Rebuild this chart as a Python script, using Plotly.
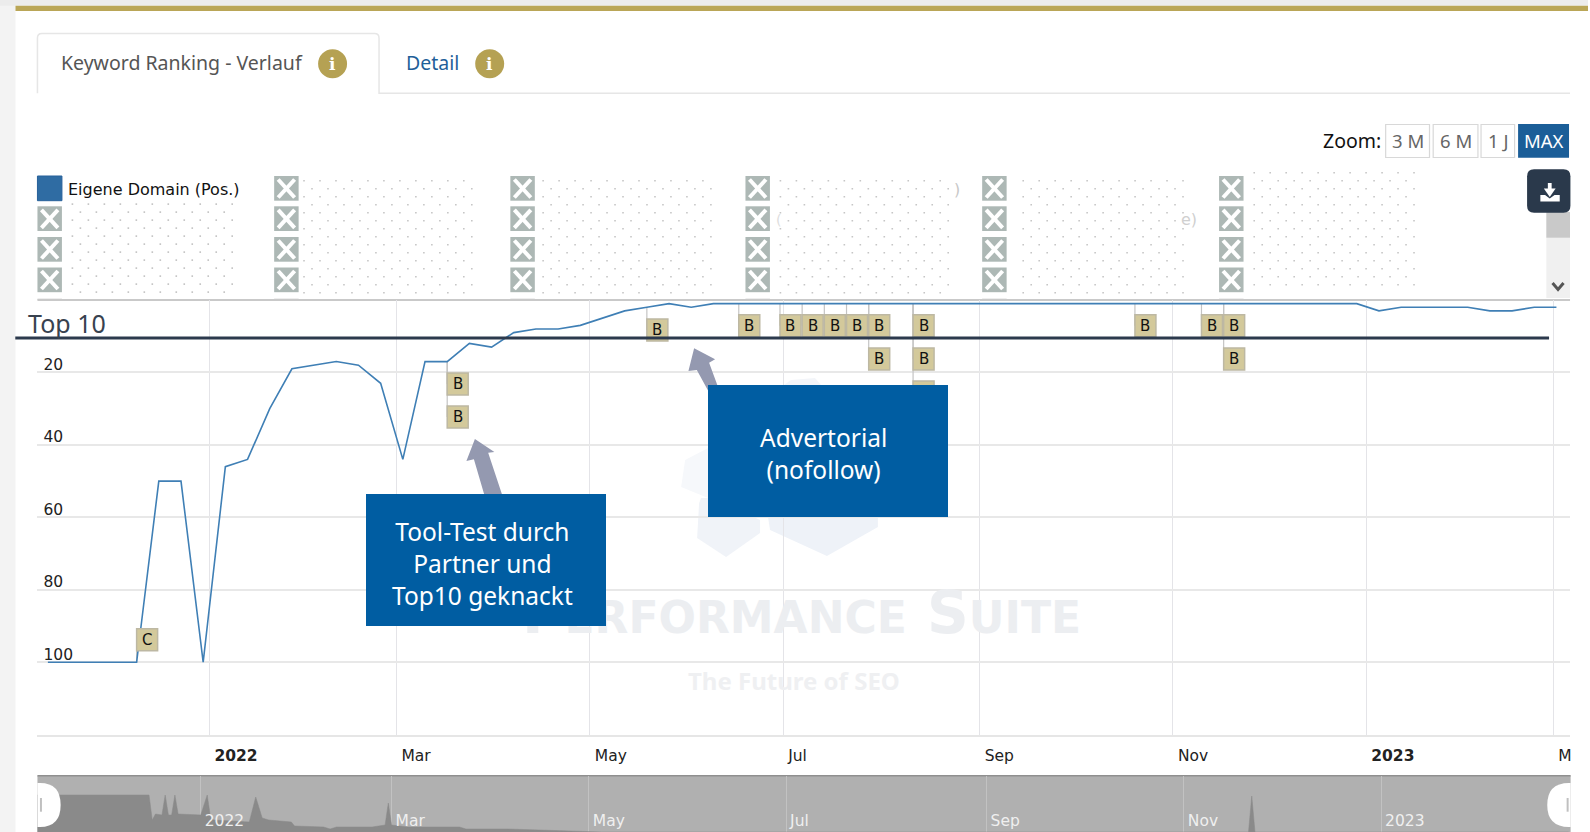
import plotly.graph_objects as go

W, H = 1590, 832

# ---------- data ----------
rank_dates = [
    "2021-11-11","2021-11-18","2021-11-25","2021-12-02","2021-12-09","2021-12-16","2021-12-23","2021-12-30",
    "2022-01-06","2022-01-13","2022-01-20","2022-01-27","2022-02-03","2022-02-10","2022-02-17","2022-02-24",
    "2022-03-03","2022-03-10","2022-03-17","2022-03-24","2022-03-31","2022-04-07","2022-04-14","2022-04-21",
    "2022-04-28","2022-05-05","2022-05-12","2022-05-19","2022-05-26","2022-06-02","2022-06-09","2022-06-16",
    "2022-06-23","2022-06-30","2022-07-07","2022-07-14","2022-07-21","2022-07-28","2022-08-04","2022-08-11",
    "2022-08-18","2022-08-25","2022-09-01","2022-09-08","2022-09-15","2022-09-22","2022-09-29","2022-10-06",
    "2022-10-13","2022-10-20","2022-10-27","2022-11-03","2022-11-10","2022-11-17","2022-11-24","2022-12-01",
    "2022-12-08","2022-12-15","2022-12-22","2022-12-29","2023-01-05","2023-01-12","2023-01-19","2023-01-26",
    "2023-02-02","2023-02-09","2023-02-16","2023-02-23","2023-03-02",
]
rank_values = [
    100,100,100,100,100,50,50,100,
    46,44,30,19,18,17,18,23,
    44,17,17,12,13,9,8,8,
    7,5,3,2,1,2,1,1,
    1,1,1,1,1,1,1,1,
    1,1,1,1,1,1,1,1,
    1,1,1,1,1,1,1,1,
    1,1,1,1,3,2,2,2,
    2,3,3,2,2,
]
y_tick_values = [0, 20, 40, 60, 80, 100, 120]
y_tick_labels = ["", "20", "40", "60", "80", "100", ""]
x_tick_dates = ["2022-01-01","2022-03-01","2022-05-01","2022-07-01","2022-09-01","2022-11-01","2023-01-01","2023-03-01"]
x_tick_labels = ["<b>2022</b>","Mar","May","Jul","Sep","Nov","<b>2023</b>","M"]
nav_tick_dates = ["2022-01-01","2022-03-01","2022-05-01","2022-07-01","2022-09-01","2022-11-01","2023-01-01"]
nav_tick_labels = ["2022","Mar","May","Jul","Sep","Nov","2023"]

flag_dates = ["2021-12-09","2022-03-17","2022-03-17","2022-05-19","2022-06-17","2022-06-30","2022-07-07",
              "2022-07-14","2022-07-21","2022-07-28","2022-07-28","2022-08-11","2022-08-11","2022-08-11",
              "2022-10-20","2022-11-10","2022-11-17","2022-11-17"]
flag_labels = ["C","B","B","B","B","B","B","B","B","B","B","B","B","","B","B","B","B"]
flag_from = [100,17,17,2,1,1,1,1,1,1,1,1,1,1,1,1,1,1]
flag_levels = [93.8,23.2,32.3,8.3,7.1,7.1,7.1,7.1,7.1,7.1,16.3,7.1,16.3,25.4,7.1,7.1,7.1,16.3]

nav_dates = ["2021-11-11","2021-12-16","2021-12-17","2021-12-18","2021-12-20","2021-12-21","2021-12-22",
             "2021-12-23","2021-12-24","2021-12-25","2022-01-01","2022-01-03","2022-01-04","2022-01-05",
             "2022-01-16","2022-01-18","2022-01-20","2022-01-22","2022-01-29","2022-01-30","2022-02-08",
             "2022-02-10","2022-02-12","2022-02-23","2022-02-27","2022-02-28","2022-03-01","2022-03-06",
             "2022-03-22","2022-03-24","2022-04-06","2022-04-22","2022-05-05","2022-11-21","2022-11-22",
             "2022-11-23","2023-02-28"]
nav_values = [37,37,12,18,17,37,17,17,37,18,17,37,15,12,10,35,14,12,10,6,5,3,5,5,7,29,7,5,5,3,3,1,0,0,36,0,0]

# ---------- layout geometry helpers ----------
PL, PR, PT, PB = 37.5, 1572.0, 300.0, 734.7
NAVT = 775.7
def fx(x): return x / W
def fy(y): return 1 - y / H
def P(*pts):
    return "M " + " L ".join(f"{fx(x):.5f} {fy(y):.5f}" for x, y in pts) + " Z"

shapes, notes = [], []
def rect(x0, y0, x1, y1, fill, line=None, lw=0, layer="above"):
    shapes.append(dict(type="rect", xref="paper", yref="paper", x0=fx(x0), x1=fx(x1), y0=fy(y0), y1=fy(y1),
                       fillcolor=fill, line=dict(color=line or fill, width=lw), layer=layer))
def seg(x0, y0, x1, y1, color, lw, layer="above"):
    shapes.append(dict(type="line", xref="paper", yref="paper", x0=fx(x0), x1=fx(x1), y0=fy(y0), y1=fy(y1),
                       line=dict(color=color, width=lw), layer=layer))
def poly(pts, fill, layer="above"):
    shapes.append(dict(type="path", xref="paper", yref="paper", path=P(*pts), fillcolor=fill,
                       line=dict(width=0), layer=layer))
def rrect_path(x0, y0, x1, y1, r):
    c = lambda x, y: f"{fx(x):.5f} {fy(y):.5f}"
    return (f"M {c(x0+r,y0)} L {c(x1-r,y0)} Q {c(x1,y0)} {c(x1,y0+r)} L {c(x1,y1-r)} Q {c(x1,y1)} {c(x1-r,y1)} "
            f"L {c(x0+r,y1)} Q {c(x0,y1)} {c(x0,y1-r)} L {c(x0,y0+r)} Q {c(x0,y0)} {c(x0+r,y0)} Z")
def label(x, y, text, size, color="#333", font="Lato", anchor="center"):
    notes.append(dict(xref="paper", yref="paper", x=fx(x), y=fy(y), text=text, showarrow=False,
                      xanchor=anchor, yanchor="middle", align="center",
                      font=dict(family=font, size=size, color=color)))
def box_note(x0, y0, x1, y1, fill):
    notes.append(dict(xref="paper", yref="paper", x=fx(x0), y=fy(y0), xanchor="left", yanchor="top",
                      width=x1-x0, height=y1-y0, borderpad=0, borderwidth=0, bgcolor=fill, text="&nbsp;",
                      showarrow=False, font=dict(size=10, color=fill)))

TXT = "Noto Sans"
SANS = "DejaVu Sans"

# page chrome
rect(0, 0, 15.5, H, "#f3f3f3", layer="below")
rect(0, 0, W, 5.7, "#ececec", layer="below")
rect(15.5, 5.7, W, 11, "#baa657", layer="below")

# tabs
c = lambda x, y: f"{fx(x):.5f} {fy(y):.5f}"
shapes.append(dict(type="path", xref="paper", yref="paper", layer="below", line=dict(color="#e6e6e6", width=1.5),
                   path=f"M {c(37.5,93.3)} L {c(37.5,38)} Q {c(37.5,33.5)} {c(42,33.5)} L {c(375,33.5)} "
                        f"Q {c(379.5,33.5)} {c(379.5,38)} L {c(379.5,93.3)} L {c(1572,93.3)}"))
label(59.5, 62.5, "Keyword Ranking - Verlauf", 19.5, "#555555", TXT, "left")
label(404.5, 62.5, "Detail", 19.5, "#1f5f99", TXT, "left")
for cx in (333, 490.3):
    shapes.append(dict(type="circle", xref="paper", yref="paper", x0=fx(cx-14.5), x1=fx(cx+14.5),
                       y0=fy(63.7-14.5), y1=fy(63.7+14.5), fillcolor="#b5a153", line=dict(width=0), layer="below"))
    label(cx, 64, "<b>i</b>", 17, "#ffffff", "DejaVu Serif")

# zoom buttons
label(1323, 140.5, "Zoom:", 19.5, "#111111", TXT, "left")
for x0, x1, t in [(1387.4,1431.3,"3 M"),(1435,1479.8,"6 M"),(1482.9,1516.5,"1 J")]:
    rect(x0, 124.5, x1, 157.5, "#ffffff", "#d8d8d8", 1.2, "below")
    label((x0+x1)/2, 140.5, t, 18.5, "#666666", TXT)
rect(1520, 124, 1571, 157.7, "#1b5e98", layer="below")
label(1545.5, 140.5, "MAX", 18.5, "#ffffff", TXT)

# legend boxes
cols = [37.5, 274.5, 511, 746.4, 983.4, 1220.6]
rows = [176, 206.3, 237, 267.5]
for ci, cxx in enumerate(cols):
    for ri, ry in enumerate(rows):
        if ci == 0 and ri == 0:
            rect(cxx, ry, cxx+24.5, ry+24.7, "#2f6ca3", "#27609a", 1, "below")
            continue
        rect(cxx, ry, cxx+24.5, ry+24.7, "#adb8b5", layer="below")
        seg(cxx+4, ry+3.5, cxx+20.5, ry+21.5, "#ffffff", 4, "below")
        seg(cxx+20.5, ry+3.5, cxx+4, ry+21.5, "#ffffff", 4, "below")
    rect(cxx, 298.5, cxx+24.5, 300, "#dcdcdc", layer="below")
label(66.5, 189.5, "Eigene Domain (Pos.)", 16, "#111111", SANS, "left")

# redacted legend names (dotted pattern)
dot_blocks = [(71.7,233,203.3,292),(303.6,472,180,292),(543,712,180,292),(780.6,953,180,292),(1023.7,1185.4,180,292),(1255,1416.5,172,284)]
parts = []
for x0, x1, y0, y1 in dot_blocks:
    yy, odd = y0, False
    while yy <= y1:
        xx = x0 + (8 if odd else 0)
        while xx <= x1:
            parts.append(f"M {c(xx,yy)} L {c(xx+1.6,yy)} L {c(xx+1.6,yy+1.6)} L {c(xx,yy+1.6)} Z")
            xx += 16
        yy += 8
        odd = not odd
shapes.append(dict(type="path", xref="paper", yref="paper", path=" ".join(parts), fillcolor="#c6c6c6",
                   line=dict(width=0), layer="below"))
label(958, 190, ")", 16, "#c8c8c8", SANS)
label(1190, 220, "e)", 16, "#d0d0d0", SANS)
label(779, 220, "(", 14, "#dddddd", SANS)

# download button + scrollbar
rect(1548.3, 212, 1572, 298, "#f0f0f0", layer="below")
rect(1548.3, 212, 1572, 237.7, "#c9c9c9", layer="below")
shapes.append(dict(type="path", xref="paper", yref="paper", layer="below", line=dict(color="#555555", width=3),
                   path=f"M {c(1554.5,283)} L {c(1560,289.5)} L {c(1565.5,283)}"))
shapes.append(dict(type="path", xref="paper", yref="paper", layer="below", path=rrect_path(1529,169.3,1572.4,212.7,7),
                   fillcolor="#2a394b", line=dict(width=0)))
rect(1549.8, 183, 1553.6, 191, "#ffffff", layer="below")
poly([(1545.8,188.5),(1557.6,188.5),(1551.7,197)], "#ffffff", "below")
poly([(1542.3,195),(1547,195),(1551.7,198.5),(1556.5,195),(1561.7,195),(1561.7,201.5),(1542.3,201.5)], "#ffffff", "below")

# watermark
for pts, col in [
    ([(702,498),(713,498),(761,520),(761,533),(727,557),(698,538),(700,503)], "#f0f3f8"),
    ([(769,517),(879,517),(879,527),(828,556),(771,530)], "#eef2f8"),
    ([(682,487),(686,460),(709,448),(709,498)], "#f6f8fb"),
    ([(785,385),(792,380),(816,378),(822,385)], "#f3f5f9"),
]:
    poly(pts, col, "below")
notes.append(dict(xref="paper", yref="paper", x=fx(803), y=fy(613), showarrow=False, xanchor="center", yanchor="middle",
                  font=dict(family="DejaVu Sans", size=58, color="#eceef1"),
                  text='<b>P<span style="font-size:44px">ERFORMANCE</span> S<span style="font-size:44px">UITE</span></b>'))
label(794.5, 680, "<b>The Future of SEO</b>", 24, "#eff0f2", TXT)

# navigator background
rect(PL, NAVT, 1572.6, H, "#b0b0b0", layer="below")
seg(PL, NAVT, 1572.6, NAVT, "#8f8f8f", 1.5, "below")

# main chart frame
seg(PL, PT, 1572, PT, "#c9c9c9", 2, "below")

# flags (sized in pixels, anchored on the chart's scales)
for d, lvl in zip(flag_dates, flag_levels):
    shapes.append(dict(type="rect", xref="x", yref="y", xsizemode="pixel", ysizemode="pixel",
                       xanchor=d, yanchor=lvl, x0=0, x1=21, y0=-11, y1=11,
                       fillcolor="#d3c99b", line=dict(color="#bdb8a3", width=1.5), layer="above"))

# Top 10 line
seg(15.3, 338, 1551, 338, "#2c3a4d", 3)
label(26, 323, "Top 10", 25, "#38424f", TXT, "left")

# arrows
ARROW = "#9499b0"
poly([(475.5,439),(495,452),(488.8,452.7),(502.5,494),(484.7,494),(474.5,459.3),(467,461)], ARROW)
poly([(695,348.3),(716,359.3),(710,362.7),(723,398),(713,398),(697.7,370),(689.3,371)], ARROW)

# callouts (drawn as annotation boxes so they cover the watermark)
BLUE = "#005da2"
box_note(366.8, 494, 607, 625.7, BLUE)
box_note(709, 385, 949, 517, BLUE)
label(483, 563.5, "Tool-Test durch<br>Partner und<br>Top10 geknackt", 24.5, "#ffffff", TXT)
label(824.5, 454, "Advertorial<br>(nofollow)", 24.5, "#ffffff", TXT)

# navigator handles
for path in (
    f"M {c(37.5,783)} L {c(40,783)} Q {c(60.7,783)} {c(60.7,805)} Q {c(60.7,827)} {c(40,827)} L {c(37.5,827)} Z",
    f"M {c(1572.6,783)} L {c(1571,783)} Q {c(1549.2,783)} {c(1549.2,805)} Q {c(1549.2,827)} {c(1571,827)} L {c(1572.6,827)} Z",
):
    shapes.append(dict(type="path", xref="paper", yref="paper", path=path, fillcolor="#ffffff", line=dict(width=0), layer="above"))
seg(41, 798, 41, 811.7, "#c0c0c0", 2)
seg(1569.6, 798, 1569.6, 811.7, "#c0c0c0", 2)

# flag letters
for d, lvl, t in zip(flag_dates, flag_levels, flag_labels):
    if t:
        notes.append(dict(x=d, y=lvl, xref="x", yref="y", xshift=10.5, text=t, showarrow=False,
                          xanchor="center", yanchor="middle", font=dict(family=SANS, size=15, color="#111111")))

# ---------- traces ----------
stem_x, stem_y = [], []
for d, a, b in zip(flag_dates, flag_from, flag_levels):
    stem_x += [d, d, None]
    stem_y += [a, b, None]

fig = go.Figure()
fig.add_trace(go.Scatter(x=stem_x, y=stem_y, mode="lines", line=dict(color="#c4c4c4", width=1.2),
                         hoverinfo="skip", showlegend=False, xaxis="x", yaxis="y"))
fig.add_trace(go.Scatter(x=rank_dates, y=rank_values, mode="lines", name="Eigene Domain (Pos.)",
                         line=dict(color="#3f7fb5", width=1.6), showlegend=False, xaxis="x", yaxis="y"))
fig.add_trace(go.Scatter(x=nav_dates, y=nav_values, mode="lines", fill="tozeroy", fillcolor="#8a8a8a",
                         line=dict(color="#8a8a8a", width=0.5), hoverinfo="skip", showlegend=False,
                         xaxis="x2", yaxis="y2"))

fig.update_layout(
    width=W, height=H, autosize=False,
    margin=dict(l=0, r=0, t=0, b=0, pad=0),
    paper_bgcolor="#ffffff", plot_bgcolor="rgba(0,0,0,0)",
    showlegend=False, shapes=shapes, annotations=notes, hovermode="closest",
    xaxis=dict(domain=[PL/W, PR/W], anchor="y", type="date",
               range=["2021-11-07 17:00", "2023-03-06 07:00"],
               tickmode="array", tickvals=x_tick_dates, ticktext=x_tick_labels,
               ticklabelposition="outside right", ticklabelshift=4, ticklabelstandoff=6,
               tickfont=dict(family=SANS, size=15.5, color="#222222"),
               showgrid=True, gridcolor="#e4e4e8", gridwidth=1, zeroline=False,
               showline=True, linecolor="#e6e6e6", linewidth=2, ticks=""),
    yaxis=dict(domain=[1-PB/H, 1-PT/H], anchor="x", range=[120, 0],
               tickmode="array", tickvals=y_tick_values, ticktext=y_tick_labels,
               ticklabelposition="inside top", ticklabelshift=-3, ticklabelstandoff=3,
               tickfont=dict(family=SANS, size=15.5, color="#222222"),
               showgrid=True, gridcolor="#e8e8e8", gridwidth=2, zeroline=False, showline=False, ticks=""),
    xaxis2=dict(domain=[PL/W, PR/W], anchor="y2", type="date",
                range=["2021-11-11 12:00", "2023-02-28 10:00"],
                tickmode="array", tickvals=nav_tick_dates, ticktext=nav_tick_labels,
                ticklabelposition="inside right", ticklabelshift=4, ticklabelstandoff=-3,
                tickfont=dict(family=SANS, size=15.5, color="#efefef"),
                showgrid=True, gridcolor="#c2c2c2", gridwidth=1, zeroline=False, showline=False, ticks=""),
    yaxis2=dict(domain=[0, (H-NAVT)/H], anchor="x2", range=[0, H-NAVT],
                showticklabels=False, showgrid=False, zeroline=False, showline=False, ticks=""),
)

fig.write_html("out.html", config=dict(displayModeBar=False),
               post_script="document.body.style.margin='0';document.body.style.overflow='hidden';")
